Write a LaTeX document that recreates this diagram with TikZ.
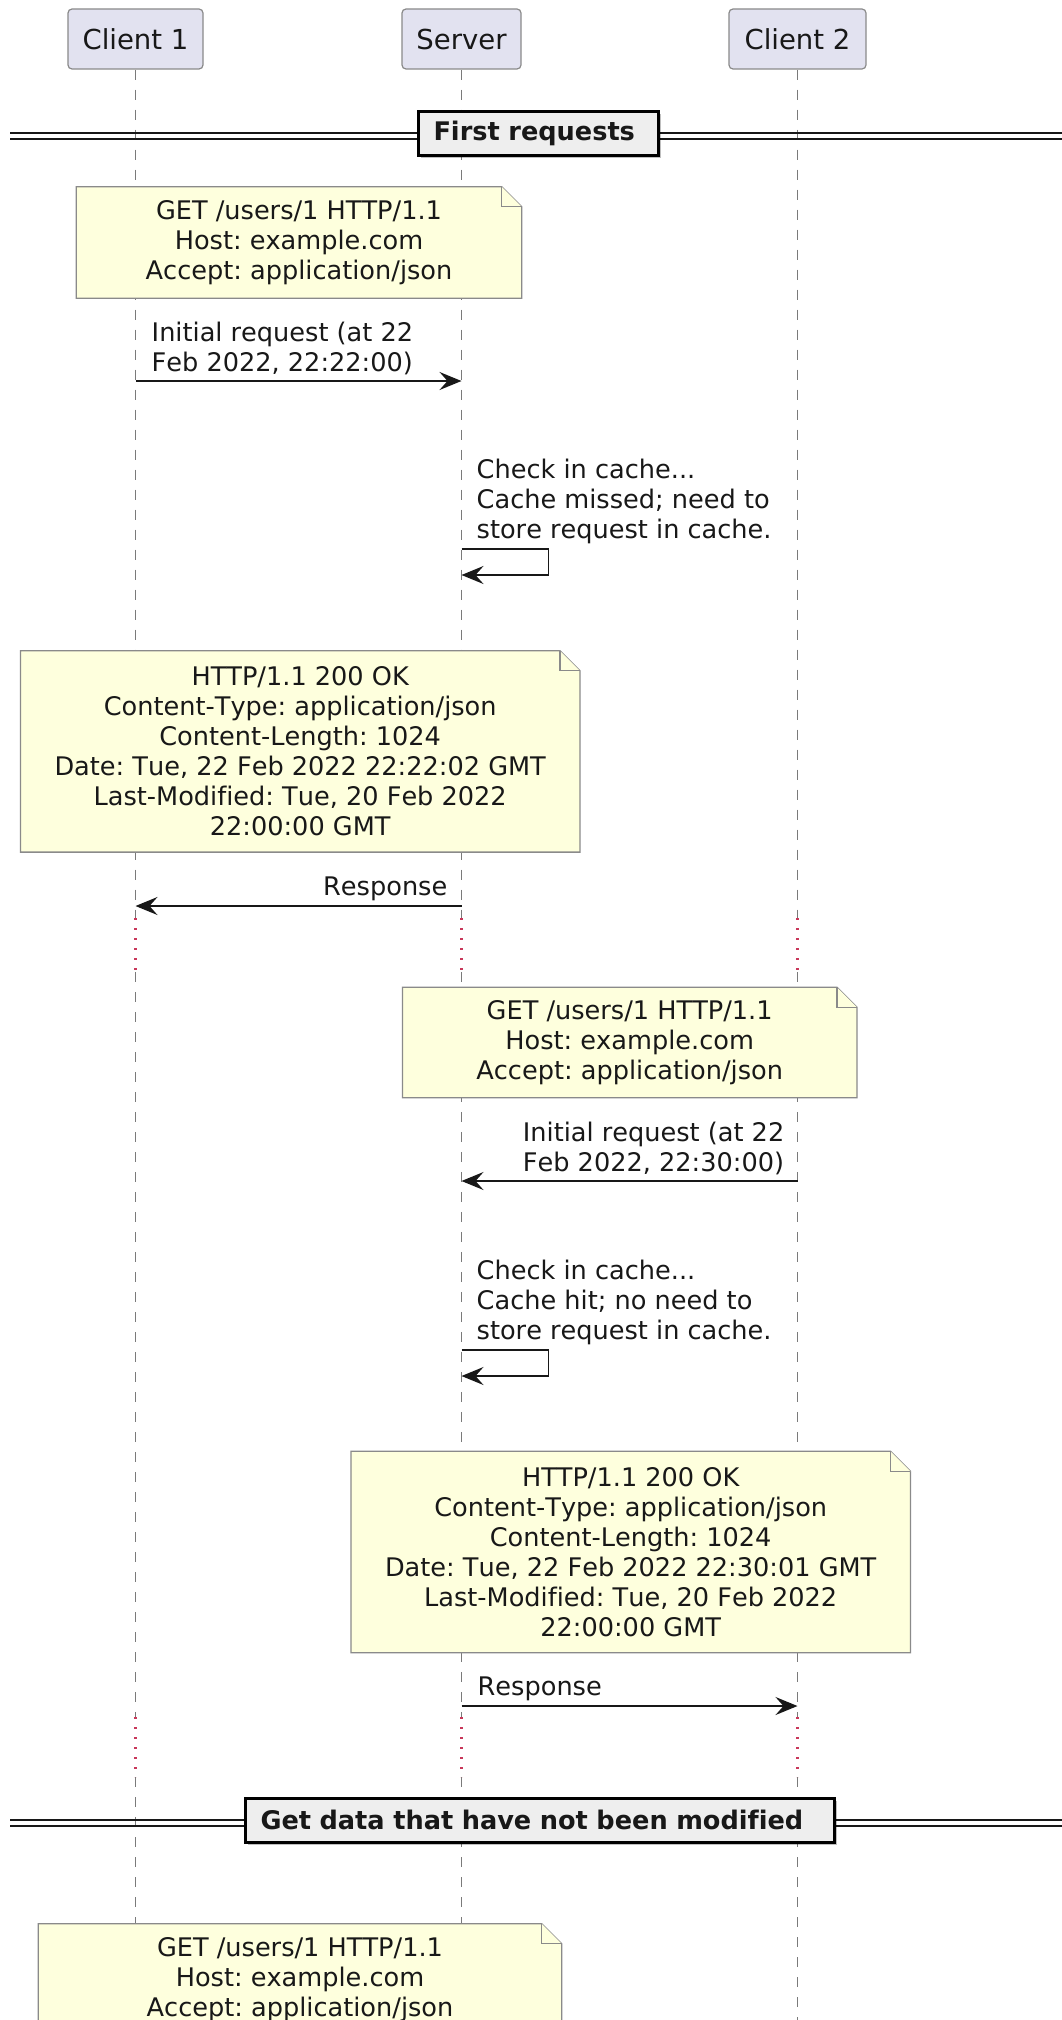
\documentclass[tikz,border=0pt]{standalone}
\usepackage{fontspec}
\setmainfont{DejaVu Sans}[Kerning=Off, Ligatures=NoCommon]
\frenchspacing
\usetikzlibrary{arrows.meta,calc,shadows}

\definecolor{ink}{HTML}{181818}
\definecolor{partfill}{HTML}{E2E2F0}
\definecolor{notefill}{HTML}{FEFFDD}
\definecolor{edge}{HTML}{8A8A8A}
\definecolor{lifegray}{HTML}{7A7A7A}
\definecolor{delayred}{HTML}{C8385A}
\definecolor{divfill}{HTML}{EEEEEE}

\pgfdeclarelayer{lifelines}
\pgfdeclarelayer{paper}
\pgfsetlayers{lifelines,paper,main}

\begin{document}
\begin{tikzpicture}[x=1pt,y=-1pt,
  participant/.style={draw=edge, line width=1.2pt, fill=partfill, rounded corners=4pt,
    minimum height=60pt, inner sep=0pt, text=ink, font=\fontsize{27.5}{32}\selectfont},
  lifeline/.style={draw=lifegray, line width=1.2pt, dash pattern=on 10pt off 10pt},
  delay/.style={draw=delayred, line width=2.2pt, dash pattern=on 2.4pt off 7.6pt},
  msg/.style={draw=ink, line width=1.6pt, -{Stealth[length=22pt,width=18pt,inset=8pt]}},
  msgtext/.style={inner sep=0pt, align=left, text=ink, font=\fontsize{25.6}{30}\selectfont},
  notebox/.style={inner sep=0pt, align=center, text=ink, font=\fontsize{25.6}{30}\selectfont},
  noteline/.style={draw=edge, line width=1.3pt, fill=notefill, line join=miter},
  divbox/.style={draw=black, line width=3pt, fill=divfill, inner xsep=15pt, inner ysep=0pt,
    minimum height=44pt, align=left, text=ink, font=\bfseries\fontsize{25.6}{30}\selectfont,
    drop shadow={shadow xshift=2.5pt, shadow yshift=-2.5pt, fill=black, opacity=0.25}},
  divline/.style={draw=ink, line width=2.2pt},
]

% page frame
\useasboundingbox (0,0) rectangle (1062,2020);
\begin{pgfonlayer}{lifelines}
  \fill[white] (0,0) rectangle (1062,2020);
\end{pgfonlayer}

% participants
\node[participant, minimum width=135pt] (c1)  at (135.5,39) {Client 1};
\node[participant, minimum width=119pt] (srv) at (461.5,39) {Server};
\node[participant, minimum width=137pt] (c2)  at (797.5,39) {Client 2};

% vertical levels
\coordinate (dA) at (0,918);
\coordinate (dB) at (0,972);
\coordinate (dC) at (0,1717);
\coordinate (dD) at (0,1777);
\coordinate (pageend) at (0,2020);
\coordinate (rowM1) at (0,381);
\coordinate (rowS1) at (0,549);
\coordinate (rowR1) at (0,906);
\coordinate (rowM2) at (0,1181);
\coordinate (rowS2) at (0,1350);
\coordinate (rowR2) at (0,1706);

% lifelines, dotted during the delays
\begin{pgfonlayer}{lifelines}
  \foreach \p in {c1,srv,c2} {
    \draw[lifeline] (\p.south) -- (\p.south |- dA);
    \draw[delay] (\p.south |- dA) -- (\p.south |- dB);
    \draw[lifeline] (\p.south |- dB) -- (\p.south |- dC);
    \draw[delay] (\p.south |- dC) -- (\p.south |- dD);
    \draw[lifeline] (\p.south |- dD) -- (\p.south |- pageend);
  }
\end{pgfonlayer}

% separator: First requests
\coordinate (sepAl) at (10,133);
\coordinate (sepAr) at (1062,133);
\draw[divline] (sepAl) -- (sepAr);
\draw[divline] ($(sepAl)+(0,6)$) -- ($(sepAr)+(0,6)$);
\node[divbox, text width=210pt] (divA) at (538.5,133.5) {First requests};

% notes
\node[notebox, minimum width=445pt, minimum height=111pt] (n1) at (299,242.5)
  {GET /users/1 HTTP/1.1\\Host: example.com\\Accept: application/json};
\node[notebox, minimum width=559pt, minimum height=201pt] (n2) at (300.2,751.4)
  {HTTP/1.1 200 OK\\Content-Type: application/json\\Content-Length: 1024\\Date: Tue, 22 Feb 2022 22:22:02 GMT\\Last-Modified: Tue, 20 Feb 2022\\22:00:00 GMT};
\node[notebox, minimum width=454pt, minimum height=110pt] (n3) at (629.7,1042.5)
  {GET /users/1 HTTP/1.1\\Host: example.com\\Accept: application/json};
\node[notebox, minimum width=559pt, minimum height=201pt] (n4) at (630.7,1552)
  {HTTP/1.1 200 OK\\Content-Type: application/json\\Content-Length: 1024\\Date: Tue, 22 Feb 2022 22:30:01 GMT\\Last-Modified: Tue, 20 Feb 2022\\22:00:00 GMT};
\node[notebox, minimum width=523pt, minimum height=111pt] (n5) at (300,1979.5)
  {GET /users/1 HTTP/1.1\\Host: example.com\\Accept: application/json};

\begin{pgfonlayer}{paper}
  \foreach \n in {n1,n2,n3,n4,n5} {
    \draw[noteline] (\n.north west) -- ($(\n.north east)+(-20,0)$)
      -- ($(\n.north east)+(0,20)$) -- (\n.south east) -- (\n.south west) -- cycle;
    \draw[noteline] ($(\n.north east)+(-20,0)$) -- ($(\n.north east)+(-20,20)$)
      -- ($(\n.north east)+(0,20)$);
  }
\end{pgfonlayer}

% first exchange
\draw[msg] (c1.south |- rowM1) -- (srv.south |- rowM1);
\node[msgtext, anchor=south west] (lblM1) at ($(c1.south |- rowM1)+(16,-6)$)
  {Initial request (at 22\\Feb 2022, 22:22:00)};

\draw[msg] (srv.south |- rowS1) -- ++(87,0) -- ++(0,26) -- ($(srv.south |- rowS1)+(0,26)$);
\node[msgtext, anchor=south west] (lblS1) at ($(srv.south |- rowS1)+(15,-5)$)
  {Check in cache...\\Cache missed; need to\\store request in cache.};

\draw[msg] (srv.south |- rowR1) -- (c1.south |- rowR1);
\node[msgtext, anchor=south east] (lblR1) at ($(srv.south |- rowR1)+(-14,-5)$) {Response};

% second exchange
\draw[msg] (c2.south |- rowM2) -- (srv.south |- rowM2);
\node[msgtext, anchor=south east] (lblM2) at ($(c2.south |- rowM2)+(-13,-6)$)
  {Initial request (at 22\\Feb 2022, 22:30:00)};

\draw[msg] (srv.south |- rowS2) -- ++(87,0) -- ++(0,26) -- ($(srv.south |- rowS2)+(0,26)$);
\node[msgtext, anchor=south west] (lblS2) at ($(srv.south |- rowS2)+(15,-5)$)
  {Check in cache...\\Cache hit; no need to\\store request in cache.};

\draw[msg] (srv.south |- rowR2) -- (c2.south |- rowR2);
\node[msgtext, anchor=south west] (lblR2) at ($(srv.south |- rowR2)+(16,-5)$) {Response};

% separator: Get data that have not been modified
\coordinate (sepBl) at (10,1820);
\coordinate (sepBr) at (1062,1820);
\draw[divline] (sepBl) -- (sepBr);
\draw[divline] ($(sepBl)+(0,6)$) -- ($(sepBr)+(0,6)$);
\node[divbox, text width=559pt] (divB) at (540,1820.3) {Get data that have not been modified};

\end{tikzpicture}
\end{document}
